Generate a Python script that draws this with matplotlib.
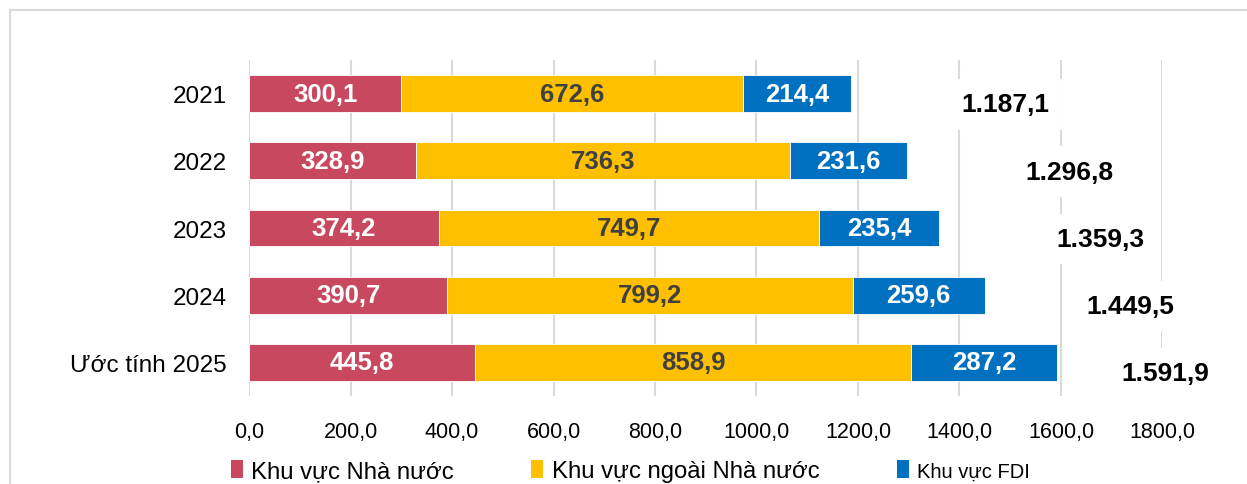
import matplotlib
matplotlib.use("Agg")
import matplotlib.pyplot as plt
from matplotlib.patches import Patch
from matplotlib.lines import Line2D
import numpy as np

# Values
years = ["2021", "2022", "2023", "2024", "Ước tính 2025"]
state = [300.1, 328.9, 374.2, 390.7, 445.8]
non_state = [672.6, 736.3, 749.7, 799.2, 858.9]
fdi = [214.4, 231.6, 235.4, 259.6, 287.2]
totals = [1187.1, 1296.8, 1359.3, 1449.5, 1591.9]
series_names = ["Khu vực Nhà nước", "Khu vực ngoài Nhà nước", "Khu vực FDI"]
x_ticks = [0, 200, 400, 600, 800, 1000, 1200, 1400, 1600, 1800]

# Where the total labels sit (x in data units), as in the original
total_label_x = [1490, 1616, 1677, 1736, 1805]

colors = ["#C8485F", "#FFC000", "#0070C0"]
text_colors = ["white", "#404040", "white"]

plt.rcParams["font.family"] = ["Liberation Sans", "DejaVu Sans"]


def fmt(v, thousands=False):
    s = f"{v:,.1f}" if thousands else f"{v:.1f}"
    return s.replace(",", "X").replace(".", ",").replace("X", ".")


def main():
    fig = plt.figure(figsize=(12.47, 4.85), dpi=100)
    ax = fig.add_axes([0.1997, 0.1814, 0.7325, 0.6928])

    y = np.arange(len(years))
    left = np.zeros(len(years))
    for vals, name, c, tc in zip([state, non_state, fdi], series_names, colors, text_colors):
        bars = ax.barh(y, vals, left=left, height=0.55, color=c, edgecolor="white",
                       linewidth=0.6, label=name, zorder=2)
        ax.bar_label(bars, labels=[fmt(v) for v in vals], label_type="center",
                     color=tc, fontsize=18.5, fontweight="bold")
        left += np.array(vals)

    for yi, t, lx in zip(y, totals, total_label_x):
        ax.text(lx, yi + 0.16, fmt(t, thousands=True), ha="center", va="center",
                fontsize=19, fontweight="bold", color="black", zorder=3,
                bbox=dict(boxstyle="square,pad=0.5", fc="white", ec="none"))

    ax.set_xlim(0, 1800)
    ax.set_ylim(len(years) - 0.5, -0.5)
    ax.set_xticks(x_ticks)
    ax.set_xticklabels([fmt(v) for v in x_ticks], fontsize=15.5)
    ax.set_yticks(y)
    ax.set_yticklabels(years, fontsize=17.5)
    ax.tick_params(axis="both", length=0)
    ax.tick_params(axis="x", pad=18)
    ax.tick_params(axis="y", pad=16)
    ax.grid(axis="x", color="#D9D9D9", linewidth=1.5)
    ax.set_axisbelow(True)
    for s in ax.spines.values():
        s.set_visible(False)

    handles = [Patch(facecolor=c, edgecolor="none") for c in colors]
    leg = fig.legend(handles, series_names, loc="center left", bbox_to_anchor=(0.185, 0.027),
                     ncol=3, frameon=False, fontsize=17.2, handlelength=0.5, handleheight=0.8,
                     handletextpad=0.35, columnspacing=3.25, borderpad=0, borderaxespad=0)
    leg.get_texts()[2].set_fontsize(14.5)

    # light chart-area border (top and left edges)
    fig.add_artist(Line2D([10 / 1247, 1], [1 - 11 / 485, 1 - 11 / 485], color="#D9D9D9", lw=1.5))
    fig.add_artist(Line2D([10 / 1247, 10 / 1247], [0, 1 - 11 / 485], color="#D9D9D9", lw=1.5))

    fig.savefig("out.png", dpi=100)


if __name__ == "__main__":
    main()
